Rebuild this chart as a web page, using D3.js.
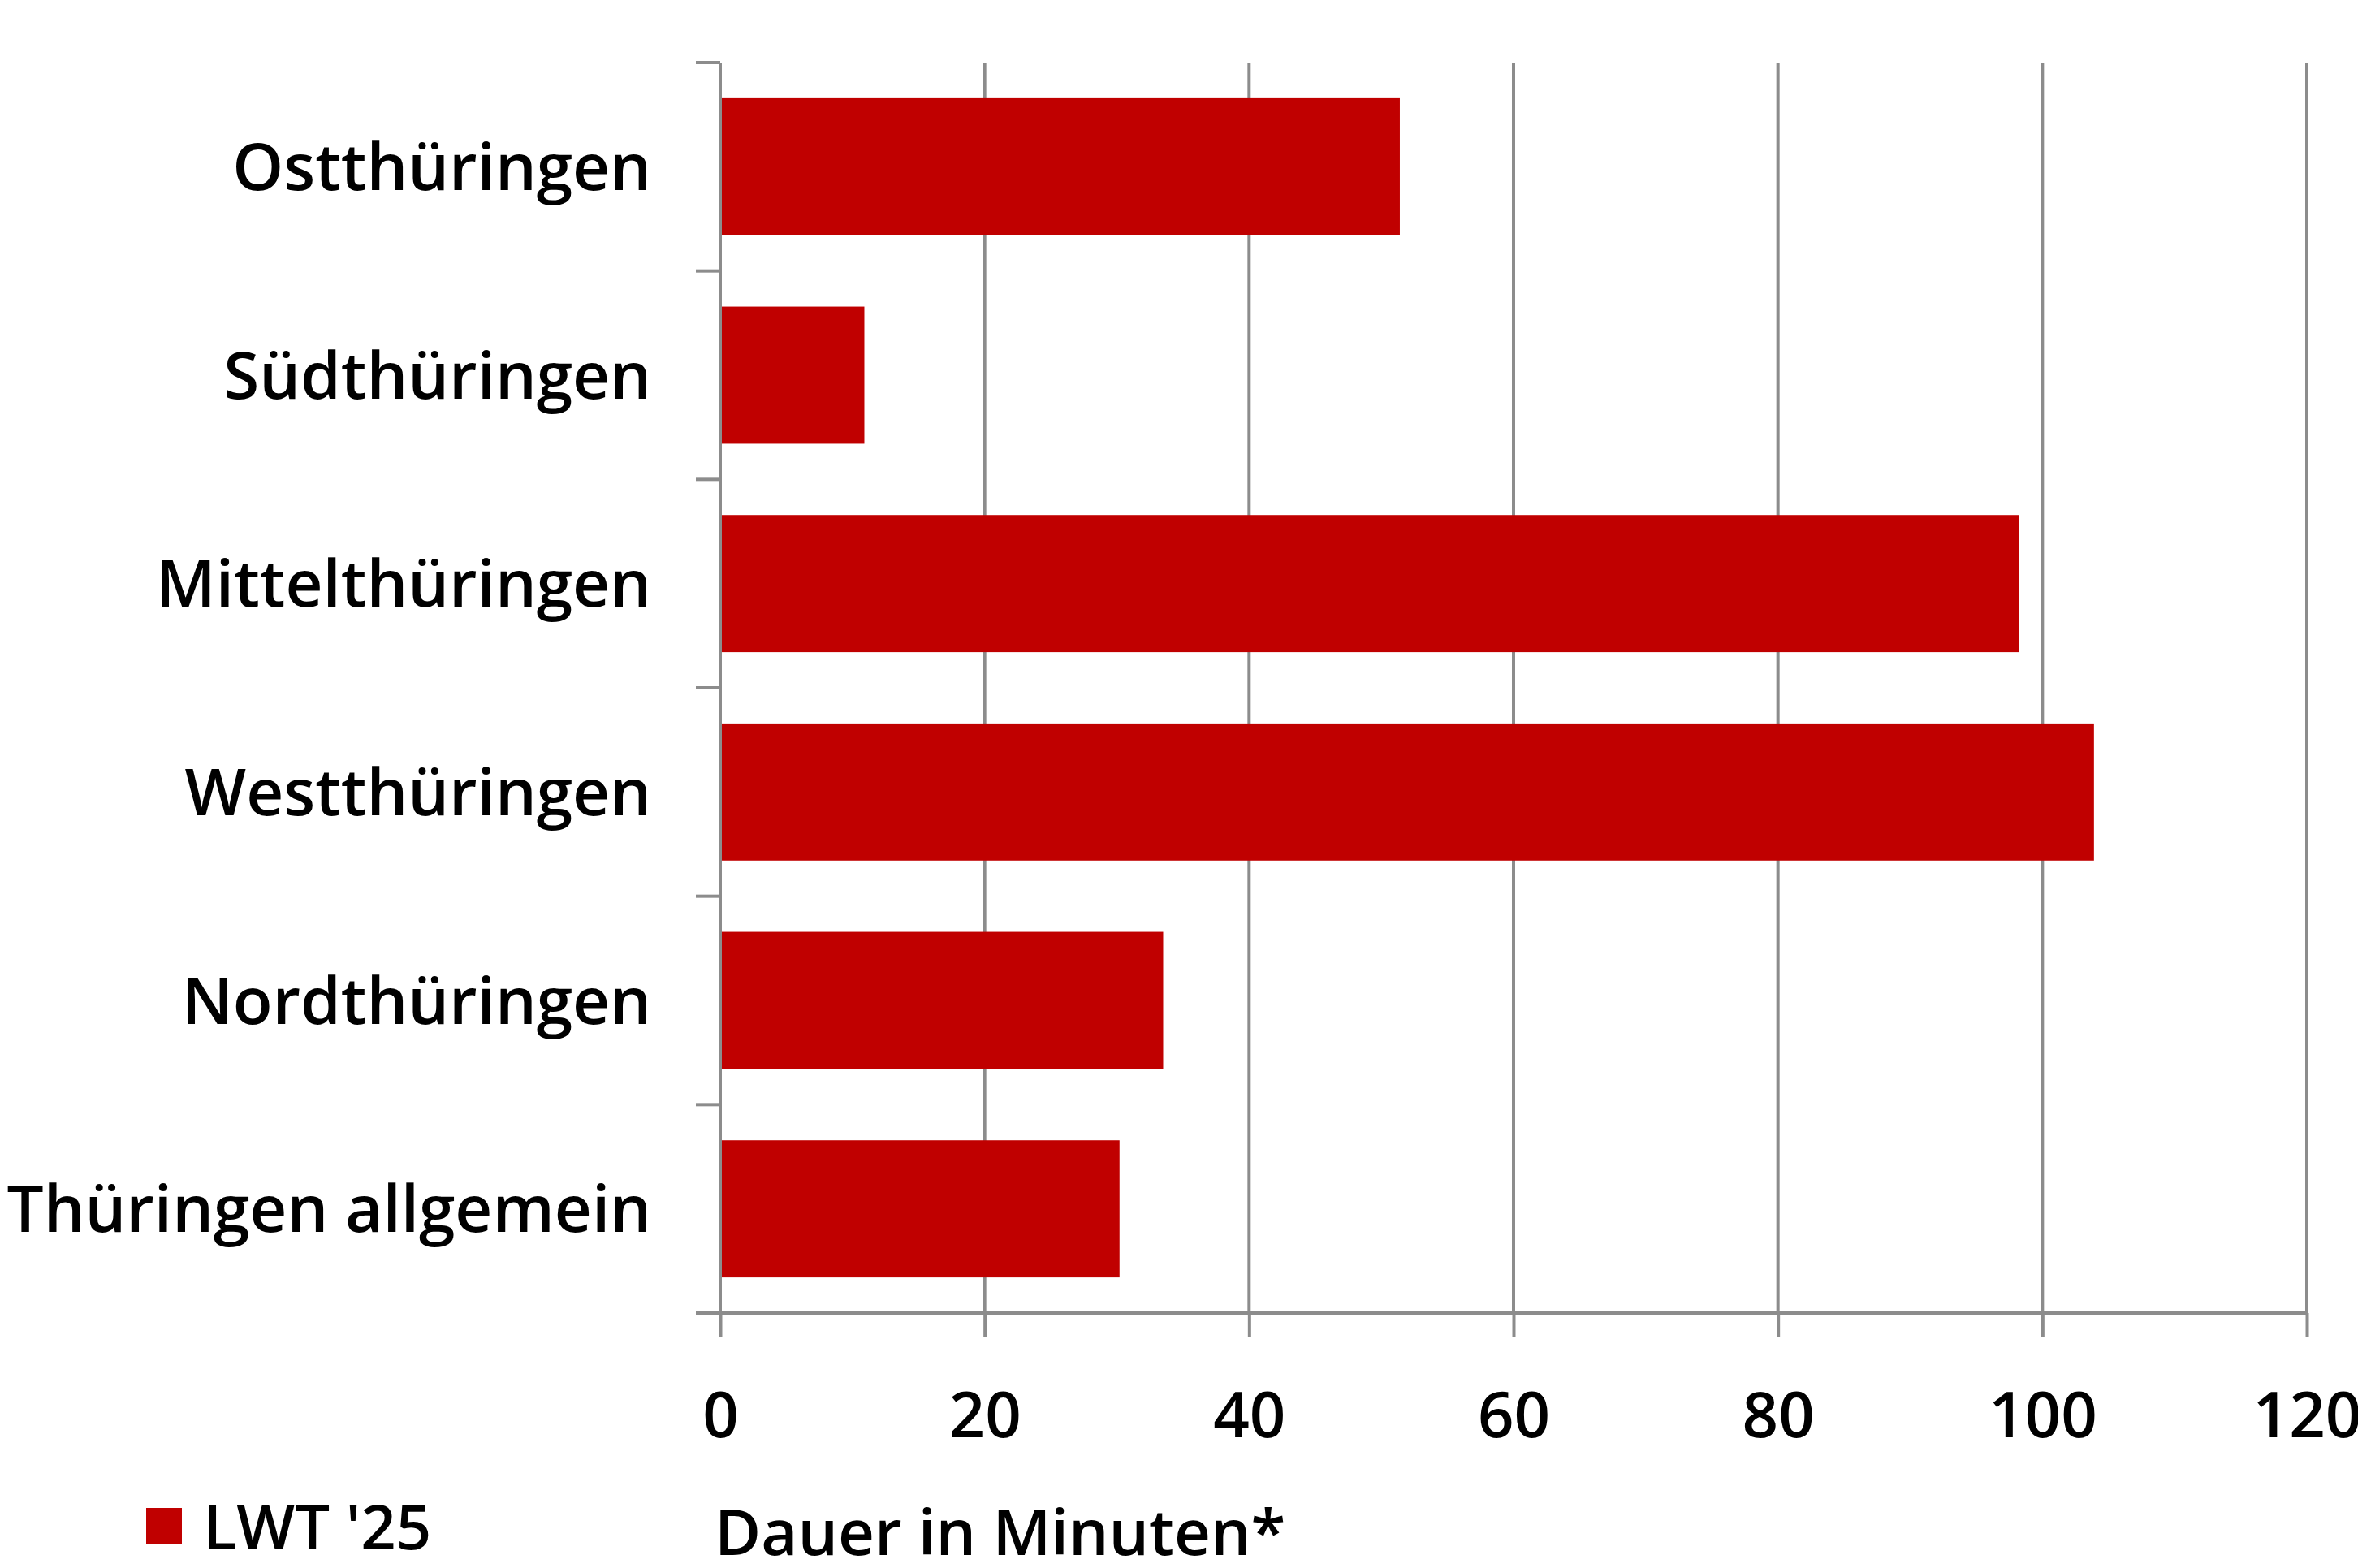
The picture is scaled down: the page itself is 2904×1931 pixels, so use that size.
<!DOCTYPE html>
<html>
<head>
<meta charset="utf-8">
<script src="https://cdn.jsdelivr.net/npm/d3@7"></script>
<style>
  html, body { margin: 0; padding: 0; background: #fff; }
  svg { display: block; }
  text { font-family: "Open Sans", "Noto Sans", sans-serif; font-weight: 600; fill: #000; }
</style>
</head>
<body>
<script>
const categories = ["Ostthüringen", "Südthüringen", "Mittelthüringen", "Westthüringen", "Nordthüringen", "Thüringen allgemein"];
const values = [51.4, 10.9, 98.2, 103.9, 33.5, 30.2];
const xTicks = [0, 20, 40, 60, 80, 100, 120];
const seriesName = "LWT '25";
const axisTitle = "Dauer in Minuten*";

(function () {
const W = 2904, H = 1931;
const mLeft = 887, mRight = 2841, mTop = 77, mBottom = 1617;
const gridColor = "#8c8c8c";
const barColor = "#C00000";
const labelSize = 80;

const svg = d3.select("body").append("svg").attr("width", W).attr("height", H);

const x = d3.scaleLinear().domain([0, 120]).range([mLeft, mRight]);
const y = d3.scaleBand().domain(categories).range([mTop, mBottom]).paddingInner(0.342).paddingOuter(0.171);

// gridlines
svg.append("g").selectAll("line").data(xTicks.filter(d => d > 0)).join("line")
  .attr("x1", d => x(d)).attr("x2", d => x(d))
  .attr("y1", mTop).attr("y2", mBottom)
  .attr("stroke", gridColor).attr("stroke-width", 4);

// bars
svg.append("g").selectAll("rect").data(categories).join("rect")
  .attr("x", x(0))
  .attr("y", d => y(d))
  .attr("width", (d, i) => x(values[i]) - x(0))
  .attr("height", y.bandwidth())
  .attr("fill", barColor);

// x axis
const xAxis = d3.axisBottom(x).tickValues(xTicks).tickSize(30).tickPadding(68).tickSizeOuter(0);
const gx = svg.append("g").attr("transform", `translate(0,${mBottom})`).call(xAxis);
gx.select(".domain").attr("stroke", gridColor).attr("stroke-width", 4).attr("d", `M${mLeft - 30},0H${mRight}`);
gx.selectAll(".tick line").attr("stroke", gridColor).attr("stroke-width", 4);
gx.selectAll(".tick text").attr("font-size", 78).attr("font-family", "'Open Sans', sans-serif")
  .attr("font-weight", 600).attr("fill", "#000");

// y axis: ticks at band boundaries
const boundaries = categories.map(c => y(c) - y.step() * y.paddingInner() / 2);
boundaries.push(mBottom);
svg.append("line").attr("x1", mLeft).attr("x2", mLeft).attr("y1", mTop).attr("y2", mBottom)
  .attr("stroke", gridColor).attr("stroke-width", 4);
svg.append("g").selectAll("line").data(boundaries).join("line")
  .attr("x1", mLeft - 30).attr("x2", mLeft)
  .attr("y1", d => d).attr("y2", d => d)
  .attr("stroke", gridColor).attr("stroke-width", 4);

// category labels
svg.append("g").selectAll("text").data(categories).join("text")
  .attr("x", 802)
  .attr("y", d => y(d) + y.bandwidth() / 2)
  .attr("dy", "0.36em")
  .attr("text-anchor", "end")
  .attr("font-size", labelSize)
  .text(d => d);

// legend
svg.append("rect").attr("x", 180).attr("y", 1857).attr("width", 44).attr("height", 44).attr("fill", barColor);
svg.append("text").attr("x", 250).attr("y", 1908).attr("font-size", 76).text(seriesName);

// axis title
svg.append("text").attr("x", 880).attr("y", 1915).attr("font-size", 78).text(axisTitle);
})();
</script>
</body>
</html>
